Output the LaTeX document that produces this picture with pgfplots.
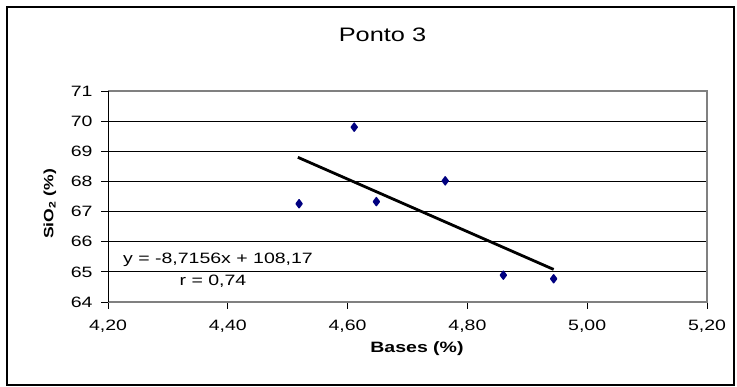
\documentclass[border=0pt]{standalone}
\usepackage{pgfplots}
\pgfplotsset{compat=1.18}
\usepackage{fontspec}
\setmainfont{Liberation Sans}[FakeStretch=1.3]
\definecolor{navyb}{RGB}{0,0,128}
\definecolor{bordgray}{RGB}{128,128,128}
\begin{document}
\begin{tikzpicture}
\path[use as bounding box] (0pt,0pt) rectangle (737pt,387pt);
\draw[line width=2pt] (7pt,1.5pt) rectangle (734pt,380pt);
\begin{axis}[
  at={(108pt,85pt)}, anchor=south west,
  width=599pt, height=211pt, scale only axis,
  xmin=4.2, xmax=5.2, ymin=64, ymax=71,
  xtick={4.2,4.4,4.6,4.8,5.0,5.2}, ytick={64,65,66,67,68,69,70,71},
  xtick pos=bottom, ytick pos=left,
  tick align=outside, major tick length=7pt,
  tick style={black, line width=0.8pt},
  ymajorgrids, grid style={black, line width=0.8pt},
  axis line style={draw=none},
  clip=false,
  /pgf/number format/assume math mode=true,
  ticklabel style={font=\fontsize{15}{17}\selectfont, black},
  xticklabel style={yshift=-7pt, /pgf/number format/.cd, fixed, fixed zerofill, precision=2, use comma},
  yticklabel style={xshift=-5pt, /pgf/number format/.cd, fixed, precision=0},
]
\addplot[only marks, mark=diamond*, mark size=4pt, navyb, mark options={fill=navyb, draw=navyb, line width=1.4pt, line join=round}]
  coordinates {(4.519,67.26) (4.611,69.80) (4.648,67.33) (4.763,68.02) (4.860,64.89) (4.944,64.77)};
\addplot[black, line width=2.8pt, no marks] coordinates {(4.517,68.80) (4.944,65.08)};
\draw[bordgray, line width=2pt] (rel axis cs:0,0) -- (rel axis cs:1,0) -- (rel axis cs:1,1) -- (rel axis cs:0,1);
\draw[black, line width=0.8pt] (rel axis cs:0,0) -- (rel axis cs:0,1);
\end{axis}
\node[font=\fontsize{19.5}{22}\selectfont] at (382.5pt,352.5pt) {Ponto 3};
\node[font=\bfseries\fontsize{15}{17}\selectfont] at (417pt,38pt) {Bases (\%)};
\node[font=\bfseries\fontsize{13.5}{16}\selectfont, rotate=90] at (50pt,183pt) {SiO\textsubscript{2} (\%)};
\node[font=\fontsize{15}{17}\selectfont] at (218pt,127pt) {y = -8,7156x + 108,17};
\node[font=\fontsize{15}{17}\selectfont] at (213pt,106pt) {r = 0,74};
\end{tikzpicture}
\end{document}
